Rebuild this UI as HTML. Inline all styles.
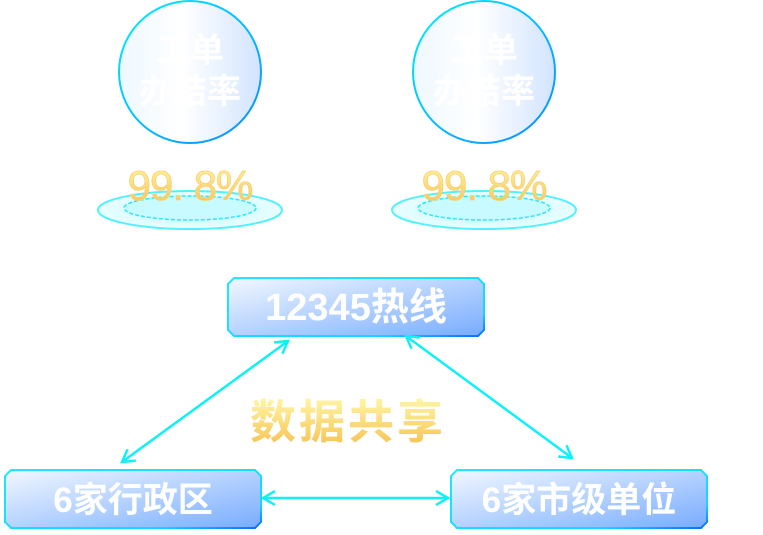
<!DOCTYPE html>
<html><head><meta charset="utf-8"><style>
body{margin:0;width:763px;height:530px;background:#fff;overflow:hidden;font-family:"Liberation Sans","Noto Sans CJK SC",sans-serif}
</style></head><body>
<svg width="763" height="530" viewBox="0 0 763 530" xmlns="http://www.w3.org/2000/svg">
<defs>
<linearGradient id="cf" x1="0" y1="0" x2="1" y2="0">
<stop offset="0" stop-color="#eef8ff"/><stop offset="0.45" stop-color="#ffffff"/><stop offset="1" stop-color="#d2e4ff"/></linearGradient>
<linearGradient id="cs" x1="0" y1="0" x2="1" y2="1">
<stop offset="0" stop-color="#00f0ff"/><stop offset="1" stop-color="#0a8cff"/></linearGradient>
<linearGradient id="yl" x1="0" y1="0" x2="0" y2="1">
<stop offset="0" stop-color="#fff8a8"/><stop offset="1" stop-color="#f8c050"/></linearGradient>
<radialGradient id="pf" cx="0.5" cy="0.5" r="0.5">
<stop offset="0" stop-color="#b8fbff"/><stop offset="1" stop-color="#e8feff"/></radialGradient>
<linearGradient id="bf" x1="0" y1="0" x2="1" y2="1">
<stop offset="0" stop-color="#f2f8ff"/><stop offset="1" stop-color="#78acff"/></linearGradient>
<linearGradient id="bs" x1="0" y1="0" x2="1" y2="1">
<stop offset="0" stop-color="#20e8ff"/><stop offset="0.8" stop-color="#10d8ff"/><stop offset="1" stop-color="#0a6cff"/></linearGradient>
<marker id="ar" viewBox="0 0 16 16" refX="14" refY="8" markerWidth="16" markerHeight="16" markerUnits="userSpaceOnUse" orient="auto-start-reverse">
<path d="M2,1 L14,8 L2,15" fill="none" stroke="#10f0f8" stroke-width="2.5"/></marker>
</defs>

<g id="g1">
<ellipse cx="190" cy="210" rx="92" ry="19" fill="url(#pf)" stroke="#40f0ff" stroke-width="2" opacity="0.9"/>
<ellipse cx="190" cy="208" rx="66" ry="12" fill="#c8fbff" stroke="#30e4ff" stroke-width="1.5" stroke-dasharray="4 2"/>
<circle cx="190" cy="72" r="71" fill="url(#cf)" stroke="url(#cs)" stroke-width="2"/>
<text x="190" y="62" text-anchor="middle" font-size="34" font-weight="bold" fill="#fff">工单</text>
<text x="190" y="103" text-anchor="middle" font-size="34" font-weight="bold" fill="#fff">办结率</text>
<text x="190" y="200" text-anchor="middle" font-size="42" fill="url(#yl)" stroke="#f8d070" stroke-width="0.8" letter-spacing="-1">99. 8%</text>
</g>
<g transform="translate(294,0)">
<ellipse cx="190" cy="210" rx="92" ry="19" fill="url(#pf)" stroke="#40f0ff" stroke-width="2" opacity="0.9"/>
<ellipse cx="190" cy="208" rx="66" ry="12" fill="#c8fbff" stroke="#30e4ff" stroke-width="1.5" stroke-dasharray="4 2"/>
<circle cx="190" cy="72" r="71" fill="url(#cf)" stroke="url(#cs)" stroke-width="2"/>
<text x="190" y="62" text-anchor="middle" font-size="34" font-weight="bold" fill="#fff">工单</text>
<text x="190" y="103" text-anchor="middle" font-size="34" font-weight="bold" fill="#fff">办结率</text>
<text x="190" y="200" text-anchor="middle" font-size="42" fill="url(#yl)" stroke="#f8d070" stroke-width="0.8" letter-spacing="-1">99. 8%</text>
</g>

<path d="M234,278 H478 L484,284 V330 L478,336 H234 L228,330 V284 Z" fill="url(#bf)" stroke="url(#bs)" stroke-width="2"/>
<text x="356" y="320" text-anchor="middle" font-size="38" font-weight="bold" fill="#fff">12345热线</text>
<path d="M11,470 H255 L261,476 V522 L255,528 H11 L5,522 V476 Z" fill="url(#bf)" stroke="url(#bs)" stroke-width="2"/>
<text x="133" y="512" text-anchor="middle" font-size="35" font-weight="bold" fill="#fff">6家行政区</text>
<path d="M457,470 H701 L707,476 V522 L701,528 H457 L451,522 V476 Z" fill="url(#bf)" stroke="url(#bs)" stroke-width="2"/>
<text x="579" y="512" text-anchor="middle" font-size="35" font-weight="bold" fill="#fff">6家市级单位</text>

<line x1="288" y1="341" x2="122" y2="462" stroke="#10f0f8" stroke-width="2.5" marker-start="url(#ar)" marker-end="url(#ar)"/>
<line x1="406" y1="336" x2="572" y2="458" stroke="#10f0f8" stroke-width="2.5" marker-start="url(#ar)" marker-end="url(#ar)"/>
<line x1="263" y1="498" x2="448" y2="498" stroke="#10f0f8" stroke-width="2.5" marker-start="url(#ar)" marker-end="url(#ar)"/>

<text x="348" y="438" text-anchor="middle" font-size="46" font-weight="bold" fill="url(#yl)" letter-spacing="3">数据共享</text>
</svg>
</body></html>
